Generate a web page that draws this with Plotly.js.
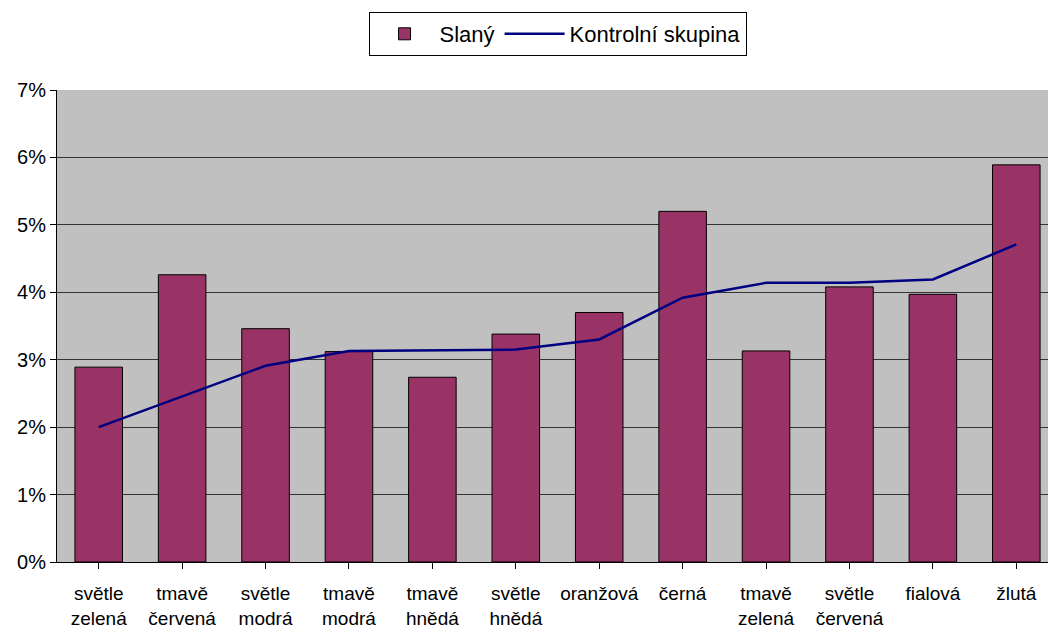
<!DOCTYPE html>
<html>
<head>
<meta charset="utf-8">
<script src="https://cdn.plot.ly/plotly-3.0.1.min.js"></script>
<style>html,body{margin:0;padding:0;background:#fff;}#chart{width:1048px;height:632px;}</style>
</head>
<body>
<div id="chart"></div>
<script>
const categories = ["světle<br>zelená","tmavě<br>červená","světle<br>modrá","tmavě<br>modrá","tmavě<br>hnědá","světle<br>hnědá","oranžová","černá","tmavě<br>zelená","světle<br>červená","fialová","žlutá"];
const slany = [0.0289,0.0426,0.0346,0.0312,0.0274,0.0338,0.0370,0.0520,0.0313,0.0408,0.0397,0.0589];
const kontrolni = [0.0200,0.0245,0.0291,0.0313,0.0314,0.0315,0.0330,0.0392,0.0414,0.0414,0.0419,0.0471];
const yTicks = [0,0.01,0.02,0.03,0.04,0.05,0.06,0.07];
const yTickText = ["0%","1%","2%","3%","4%","5%","6%","7%"];

const idx = categories.map((_, i) => i);
const traces = [
  {type:"bar", name:"Slaný", x:idx, y:slany,
   marker:{color:"#993366", line:{color:"#000000", width:1}}},
  {type:"scatter", mode:"lines", name:"Kontrolní skupina", x:idx, y:kontrolni,
   line:{color:"#000080", width:2.5}}
];
const layout = {
  width:1048, height:632,
  margin:{l:57, r:0, t:90, b:70},
  paper_bgcolor:"#ffffff", plot_bgcolor:"#C0C0C0",
  font:{family:"Arial, 'Liberation Sans', sans-serif", color:"#000", size:19},
  bargap:0.43,
  showlegend:true,
  legend:{orientation:"h", xref:"container", yref:"container", x:0.532, y:0.981, xanchor:"center", yanchor:"top",
          font:{size:22, color:"#000"}, bordercolor:"#000", borderwidth:1, bgcolor:"#fff", traceorder:"normal",
          itemwidth:60, tracegroupgap:0},
  xaxis:{range:[-0.5, 11.38], tickmode:"array", tickvals:idx, ticktext:categories,
         ticks:"outside", tickson:"boundaries", ticklen:6, tickcolor:"#000",
         showline:true, linecolor:"#000", linewidth:1, showgrid:false, zeroline:false,
         tickfont:{size:19}, ticklabelstandoff:8, fixedrange:true},
  yaxis:{range:[0,0.07], tickmode:"array", tickvals:yTicks, ticktext:yTickText,
         ticks:"outside", ticklen:6, tickcolor:"#000",
         showline:true, linecolor:"#000", linewidth:1,
         showgrid:true, gridcolor:"#333333", gridwidth:1, zeroline:false,
         tickfont:{size:20}, fixedrange:true}
};
Plotly.newPlot("chart", traces, layout, {staticPlot:true, displayModeBar:false});
</script>
</body>
</html>
